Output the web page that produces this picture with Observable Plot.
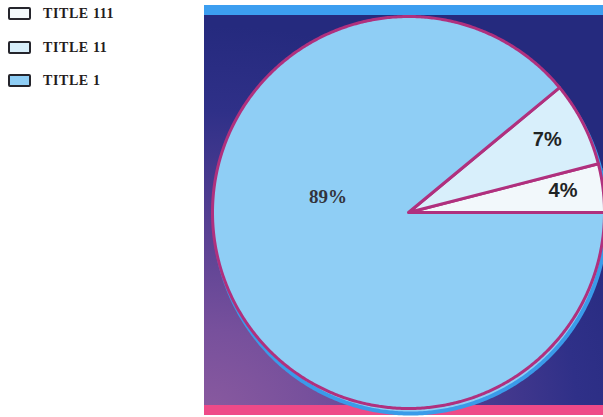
<!DOCTYPE html>
<html>
<head>
<meta charset="utf-8">
<script src="https://cdn.jsdelivr.net/npm/d3@7"></script>
<script src="https://cdn.jsdelivr.net/npm/@observablehq/plot@0.6"></script>
<style>
  html, body { margin: 0; padding: 0; background: #fff; overflow: hidden; }
  #wrap { position: relative; width: 603px; height: 417px; }
  #panel { position: absolute; left: 204px; top: 5px; width: 399px; height: 410px;
    background: radial-gradient(ellipse 120% 95% at 0% 100%, #8a5a9f 0%, #77509c 22%, #553f92 50%, #2f3088 78%, #252a7e 100%); }
  #topband { position: absolute; left: 204px; top: 5px; width: 399px; height: 10px; background: #3c9ef0; }
  #botband { position: absolute; left: 204px; top: 405px; width: 399px; height: 10px; background: #ee4a88; }
  #chart { position: absolute; left: 0; top: 0; }
  #chart svg { overflow: hidden; background: transparent; }
  .legend { position: absolute; left: 8px; top: 0; font-family: "Liberation Serif", "DejaVu Serif", serif; font-weight: bold; font-size: 14px; letter-spacing: 0.6px; color: #241c1c; }
  .item { position: absolute; left: 0; height: 14px; white-space: nowrap; }
  .sw { position: absolute; left: 0; top: 0; width: 19px; height: 9px; border: 2.5px solid #25252c; border-radius: 2px; }
  .lab { position: absolute; left: 35px; top: -1px; line-height: 16px; }
</style>
</head>
<body>
<div id="wrap">
  <div id="panel"></div>
  <div id="topband"></div>
  <div id="botband"></div>
  <div id="chart"></div>
  <div class="legend" id="legend"></div>
</div>
<script>
// ---- data ----
const categories = ["TITLE 1", "TITLE 11", "TITLE 111"];
const values = [89, 7, 4];
const labels = ["89%", "7%", "4%"];
const sliceColors = ["#8fcef5", "#d8effb", "#f2f8fb"];
const legendOrder = ["TITLE 111", "TITLE 11", "TITLE 1"];

// ---- build slice polygons (counter-clockwise from 3 o'clock, smallest first) ----
const total = d3.sum(values);
const poly = [];
const labelRows = [];
let acc = 0;
for (const i of [2, 1, 0]) {
  const a0 = acc / total * 2 * Math.PI;
  const a1 = (acc + values[i]) / total * 2 * Math.PI;
  const n = Math.max(4, Math.ceil((a1 - a0) / (Math.PI / 360)));
  poly.push({cat: categories[i], x: 0, y: 0});
  for (let k = 0; k <= n; k++) {
    const a = a0 + (a1 - a0) * k / n;
    poly.push({cat: categories[i], x: Math.cos(a), y: Math.sin(a)});
  }
  poly.push({cat: categories[i], x: 0, y: 0});
  const am = (a0 + a1) / 2;
  const r = values[i] > 50 ? 0.42 : 0.8;
  labelRows.push({cat: categories[i], label: labels[i], big: values[i] > 50, x: r * Math.cos(am), y: r * Math.sin(am)});
  acc += values[i];
}

const R = 196, cx = 409, cy = 213, W = 603, H = 417;
const xDom = [-cx / R, (W - cx) / R];
const yDom = [-(H - cy) / R, cy / R];

const chart = Plot.plot({
  width: W, height: H, margin: 0,
  x: {domain: xDom, axis: null},
  y: {domain: yDom, axis: null},
  color: {domain: categories, range: sliceColors},
  style: {background: "transparent"},
  marks: [
    Plot.line(poly, {x: "x", y: "y", z: "cat", fill: "cat", stroke: "#3a9be9", strokeWidth: 4, curve: "linear-closed", dx: 1, dy: 4}),
    Plot.line(poly, {x: "x", y: "y", z: "cat", fill: "cat", stroke: "#b0307e", strokeWidth: 3, curve: "linear-closed", dx: -1, dy: -1}),
    Plot.text(labelRows.filter(d => d.big), {x: "x", y: "y", text: "label", dx: -4, dy: -44, fontSize: 19, fontWeight: "bold", fontFamily: "Liberation Serif, serif", fill: "#33333c"}),
    Plot.text(labelRows.filter(d => !d.big), {x: "x", y: "y", text: "label", dx: -2, dy: -3, fontSize: 20, fontWeight: "bold", fontFamily: "Liberation Sans, Arial, sans-serif", fill: "#1f2424"})
  ]
});
document.getElementById("chart").appendChild(chart);

// ---- legend ----
const colorOf = Object.fromEntries(categories.map((c, i) => [c, sliceColors[i]]));
const leg = document.getElementById("legend");
legendOrder.forEach((c, j) => {
  const it = document.createElement("div");
  it.className = "item";
  it.style.top = (7 + j * 33.5) + "px";
  it.innerHTML = `<div class="sw" style="background:${colorOf[c]}"></div><div class="lab">${c}</div>`;
  leg.appendChild(it);
});
</script>
</body>
</html>
